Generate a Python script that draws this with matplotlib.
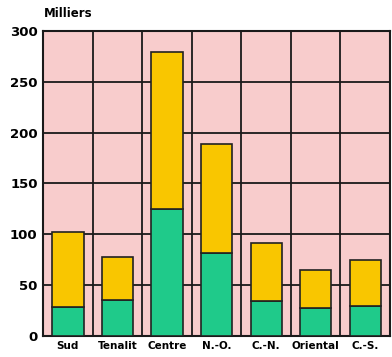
import matplotlib.pyplot as plt
import numpy as np

regions = ["Sud", "Tenalit", "Centre", "N.-O.", "C.-N.", "Oriental", "C.-S."]
green_vals = [28, 35, 125, 82, 34, 27, 29]
total_vals = [102, 78, 279, 189, 91, 65, 75]
yticks = [0, 50, 100, 150, 200, 250, 300]

pink = "#f8cccc"
yellow = "#f9c600"
green = "#1fca8a"

fig = plt.figure(figsize=(3.92, 3.57), dpi=100)
ax = fig.add_axes([0.110, 0.059, 0.885, 0.854])
ax.set_facecolor(pink)

x = np.arange(len(regions))
upper = [t - g for t, g in zip(total_vals, green_vals)]
ax.bar(x, green_vals, width=0.63, color=green, edgecolor="#222222", linewidth=1.2, zorder=3)
ax.bar(x, upper, bottom=green_vals, width=0.63, color=yellow, edgecolor="#222222",
       linewidth=1.2, zorder=3)

ax.set_xlim(-0.5, len(regions) - 0.5)
ax.set_ylim(0, 300)
ax.set_yticks(yticks)
ax.set_yticklabels([str(v) for v in yticks], fontsize=9.5, fontweight="bold")
ax.set_xticks(x)
ax.set_xticklabels(regions, fontsize=7.5, fontweight="bold")
ax.tick_params(axis="both", length=0, pad=4)

for v in yticks[1:-1]:
    ax.axhline(v, color="#1a1a1a", linewidth=1.3, zorder=1)
for i in range(1, len(regions)):
    ax.axvline(i - 0.5, color="#1a1a1a", linewidth=1.3, zorder=1)
for s in ax.spines.values():
    s.set_color("#1a1a1a")
    s.set_linewidth(1.5)

fig.text(0.112, 0.945, "Milliers", fontsize=8.5, fontweight="bold", ha="left", va="bottom")

fig.savefig("out.png", dpi=100)
